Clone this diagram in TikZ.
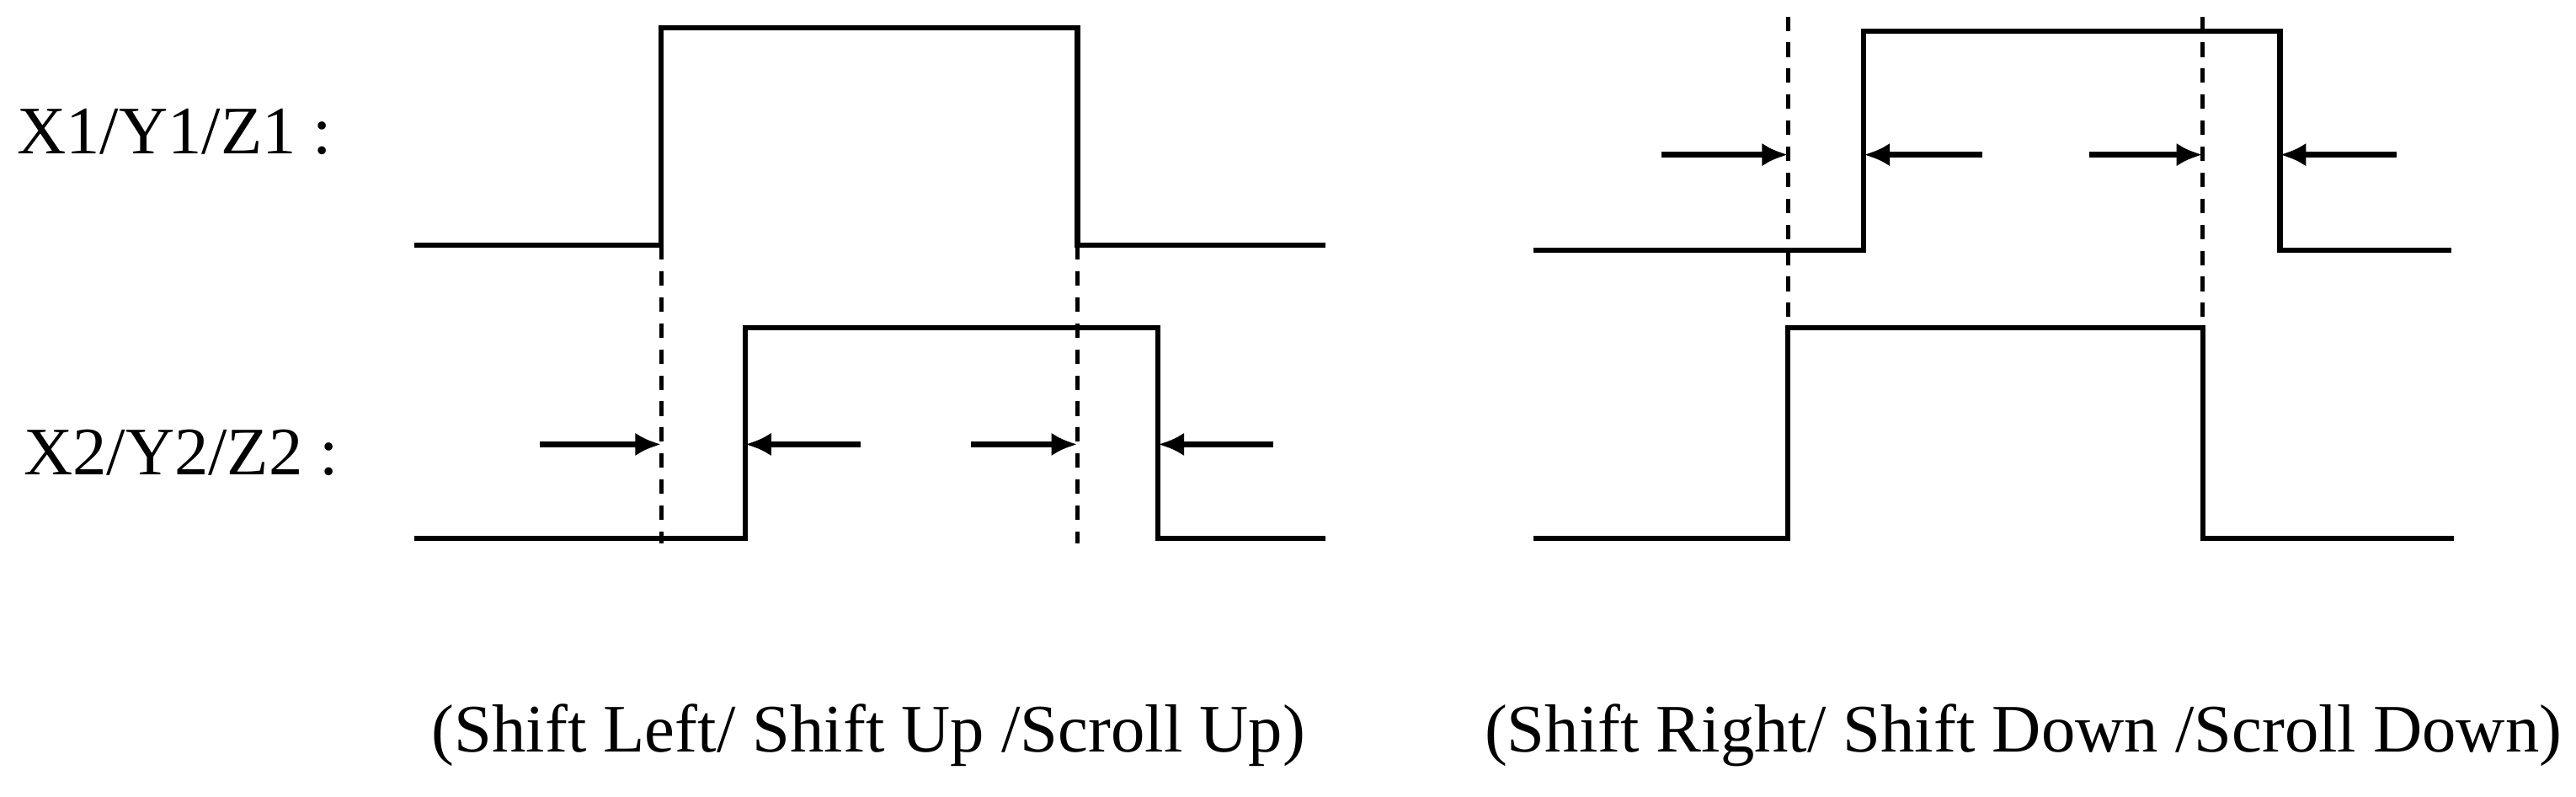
\documentclass[tikz,border=0pt]{standalone}
\usepackage{fontspec}
\setmainfont{Liberation Serif}
\usetikzlibrary{arrows.meta}
\begin{document}
\begin{tikzpicture}[x=0.02cm,y=-0.02cm,
  wave/.style={line width=1.8pt},
  guide/.style={line width=1.5pt,dash pattern=on 5pt off 4pt},
  arr/.style={line width=2.2pt,-{Latex[length=9pt,width=8pt]}},
  lbl/.style={font=\fontsize{23.5}{28}\selectfont,inner sep=0pt}]
\useasboundingbox (0,0) rectangle (1566,484);
% left diagram
\draw[wave] (252,149) -- (402,149) -- (402,17) -- (655,17) -- (655,149) -- (806,149);
\draw[wave] (252,327) -- (453,327) -- (453,199) -- (704,199) -- (704,327) -- (806,327);
\draw[guide] (402,149) -- (402,330);
\draw[guide] (655,149) -- (655,330);
\coordinate (a1) at (328,270); \coordinate (b1) at (402,270);
\coordinate (a2) at (523,270); \coordinate (b2) at (453,270);
\coordinate (a3) at (590,270); \coordinate (b3) at (655,270);
\coordinate (a4) at (774,270); \coordinate (b4) at (704,270);
\draw[arr] (a1) -- (b1); \draw[arr] (a2) -- (b2);
\draw[arr] (a3) -- (b3); \draw[arr] (a4) -- (b4);
\node[lbl,anchor=west] (l1) at (10,80) {X1/Y1/Z1 :};
\node[lbl,anchor=west] (l2) at (14,275) {X2/Y2/Z2 :};
\node[lbl] (c1) at (528,447) {(Shift Left/ Shift Up /Scroll Up)};
% right diagram
\draw[wave] (932,152) -- (1133,152) -- (1133,19) -- (1386,19) -- (1386,152) -- (1490,152);
\draw[wave] (932,327) -- (1087,327) -- (1087,199) -- (1339,199) -- (1339,327) -- (1492,327);
\draw[guide] (1087,10) -- (1087,199);
\draw[guide] (1339,10) -- (1339,199);
\coordinate (a5) at (1010,94); \coordinate (b5) at (1087,94);
\coordinate (a6) at (1205,94); \coordinate (b6) at (1133,94);
\coordinate (a7) at (1270,94); \coordinate (b7) at (1339,94);
\coordinate (a8) at (1457,94); \coordinate (b8) at (1386,94);
\draw[arr] (a5) -- (b5); \draw[arr] (a6) -- (b6);
\draw[arr] (a7) -- (b7); \draw[arr] (a8) -- (b8);
\node[lbl] (c2) at (1230,447) {(Shift Right/ Shift Down /Scroll Down)};
\end{tikzpicture}
\end{document}
